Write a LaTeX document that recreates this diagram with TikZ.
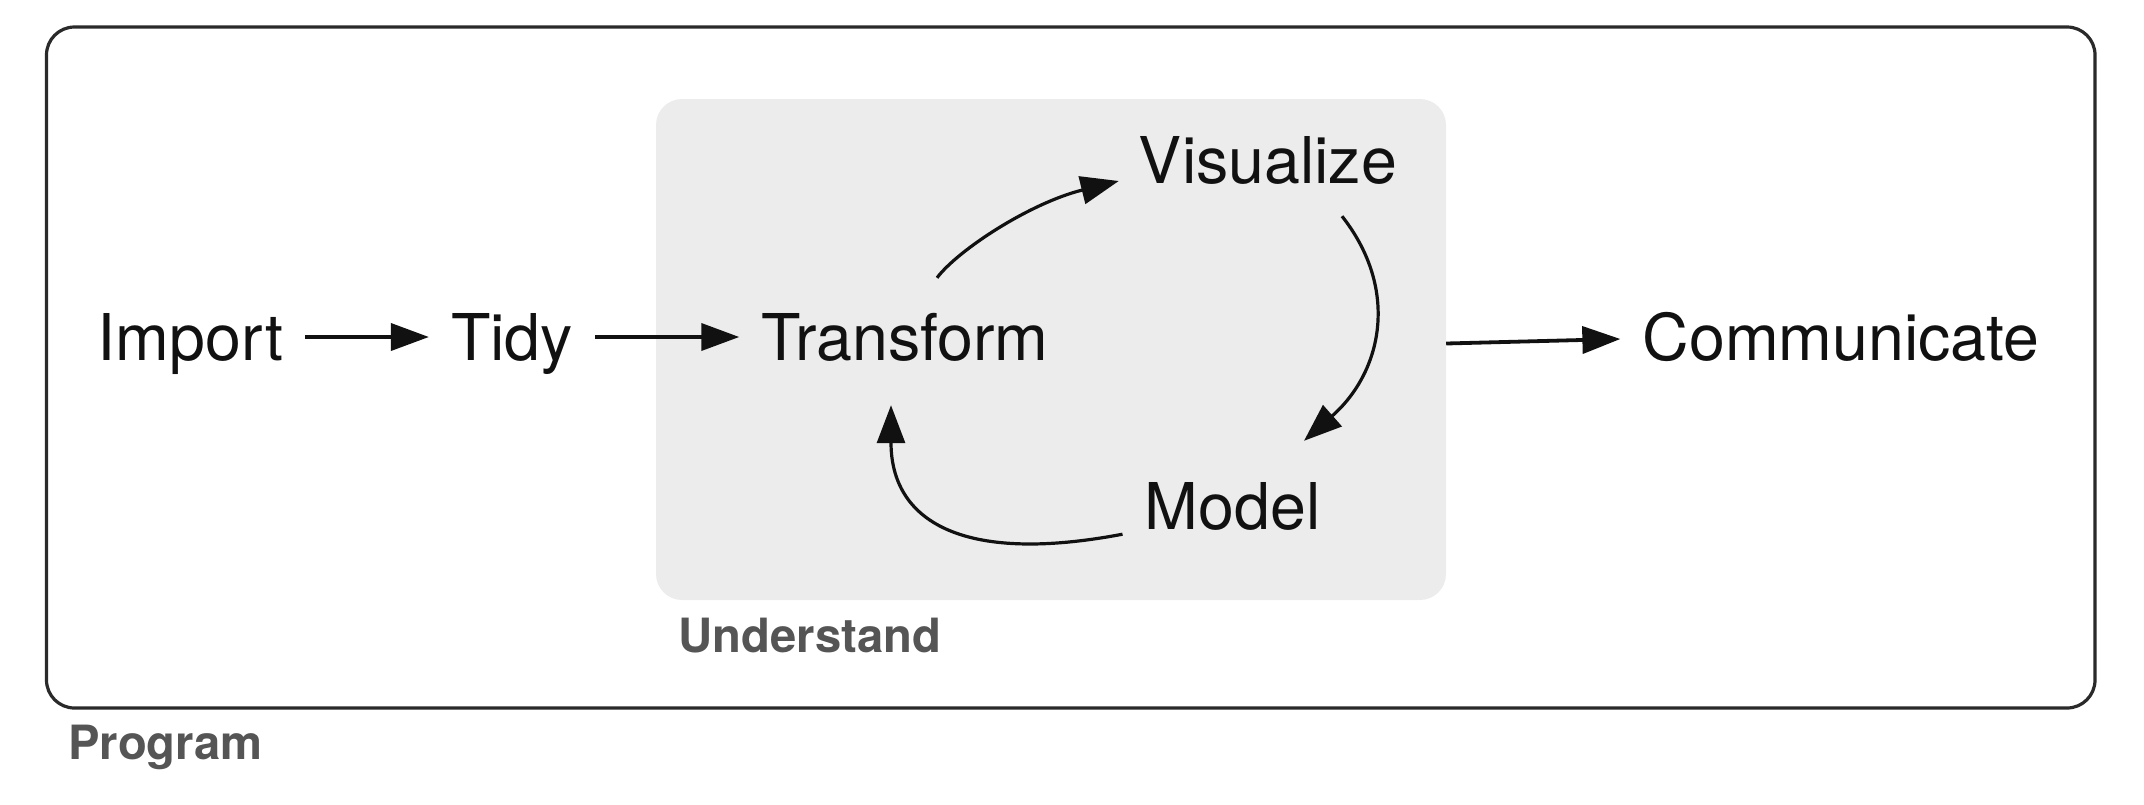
\documentclass[tikz,border=0pt]{standalone}
\usepackage{fontspec}
\setmainfont{TeX Gyre Heros}
\usetikzlibrary{arrows.meta,calc}
\definecolor{ugray}{HTML}{ECECEC}
\definecolor{lblgray}{HTML}{555555}
\definecolor{boxline}{HTML}{2A2A2A}
\definecolor{ink}{HTML}{111111}
\newcommand\lblfont{\fontsize{64.5pt}{72pt}\selectfont}
\newcommand\capfont{\fontsize{47.2pt}{53pt}\selectfont\bfseries}
\begin{document}
\begin{tikzpicture}[x=1pt,y=-1pt,
  lbl/.style={font=\lblfont, text=ink, inner xsep=22pt, inner ysep=0pt, text height=46pt, text depth=0pt, anchor=base},
  boxlabel/.style={font=\capfont, text=lblgray, inner sep=0pt, anchor=base west},
  arr/.style={-{Triangle[length=38pt,width=27pt]}, line width=3.8pt, draw=ink},
  carr/.style={-{Triangle[length=38pt,width=28pt]}, line width=3.2pt, draw=ink}]
\useasboundingbox (0,0) rectangle (2144,804);
% outer Program box
\node[draw=boxline, line width=3.2pt, rounded corners=28pt, minimum width=2048.5pt, minimum height=681pt, inner sep=0pt] (pbox) at (1070.75,367.5) {};
% inner Understand box
\node[fill=ugray, rounded corners=26pt, minimum width=790pt, minimum height=501pt, inner sep=0pt] (ubox) at (1051,349.5) {};
% labels
\node[lbl] (imp) at (190.5,360) {Import};
\node[lbl] (tidy) at (512,360) {Tidy};
\node[lbl] (tr) at (905,360) {Transform};
\node[lbl] (viz) at (1268,183) {Visualize};
\node[lbl] (mod) at (1232.5,529) {Model};
\node[lbl] (comm) at (1841,360) {Communicate};
\node[boxlabel] (ulab) at (678,652) {Understand};
\node[boxlabel] (plab) at (68,759) {Program};
% straight arrows
\draw[arr] (imp.east) -- (tidy.west);
\draw[arr] (tidy.east) -- (tr.west);
\draw[arr] ($(ubox.east)+(0,-6)$) -- ($(comm.west)+(0,2)$);
% cycle
\draw[carr] ($(tr.north)+(32,-36)$) .. controls (958,250) and (1030,203) .. ($(viz.base west)+(2,-2)$);
\draw[carr] ($(viz.south)+(74,33)$) .. controls (1400,290) and (1382,372) .. ($(mod.north)+(71.5,-42)$);
\draw[carr] ($(mod.south west)+(0,5)$) .. controls (960,565) and (891,520) .. ($(tr.south)+(-14,45)$);
\end{tikzpicture}
\end{document}
